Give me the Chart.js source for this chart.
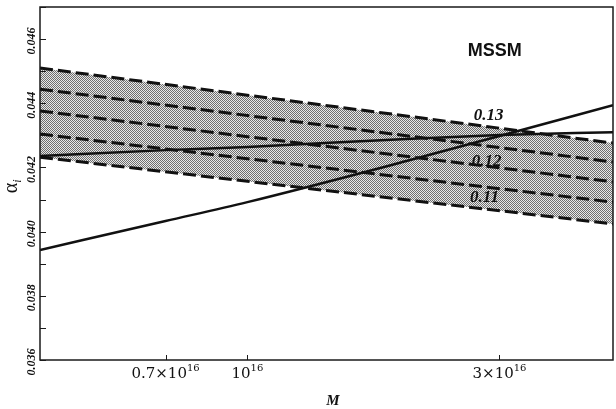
<!DOCTYPE html>
<html>
<head>
<meta charset="utf-8">
<style>
  html, body { margin: 0; padding: 0; background: #fff; }
  canvas { display: block; }
</style>
<script src="https://cdn.jsdelivr.net/npm/chart.js@4.4.0/dist/chart.umd.min.js"></script>
</head>
<body>
<canvas id="alphaChart" width="616" height="409"></canvas>
<script>
// values
const massGrid = [4.05e15, 7e15, 1e16, 2e16, 3e16, 4.92e16];
const alphaSteep = [0.03943, 0.04033, 0.04092, 0.04220, 0.04298, 0.04394];
const alphaFlat = [0.04236, 0.04254, 0.04264, 0.04289, 0.04301, 0.04310];

const bandMass = [4.05e15, 4.92e16];
const dash1 = [0.04510, 0.04276];
const dash2 = [0.04444, 0.04217];
const dash3 = [0.04376, 0.04155];
const dash4 = [0.04304, 0.04092];
const dash5 = [0.04232, 0.04024];

const xTickValues = [0.7e16, 1e16, 3e16];
const xTickBases = ["0.7×10", "10", "3×10"];
const xTickPowers = ["16", "16", "16"];
const yTickValues = [0.036, 0.037, 0.038, 0.039, 0.040, 0.041, 0.042, 0.043, 0.044, 0.045, 0.046, 0.047];
const yLabelValues = [0.036, 0.038, 0.040, 0.042, 0.044, 0.046];

const noteText = ["0.13", "0.12", "0.11"];
const noteMass = [2.86e16, 2.835e16, 2.81e16];
const noteAlpha = [0.04363, 0.04217, 0.04105];

function toPoints(xs, ys) {
  return xs.map((x, i) => ({ x: x, y: ys[i] }));
}

function stipple(ctx) {
  const c = document.createElement("canvas");
  c.width = 2;
  c.height = 2;
  const g = c.getContext("2d");
  g.fillStyle = "#e8e8e8";
  g.fillRect(0, 0, 2, 2);
  g.fillStyle = "#6e6e6e";
  g.fillRect(0, 0, 1, 1);
  g.fillRect(1, 1, 1, 1);
  return ctx.createPattern(c, "repeat");
}

function dashed(values, fill, bg) {
  return {
    data: toPoints(bandMass, values),
    borderColor: "#111",
    borderWidth: 3,
    borderDash: [13, 5],
    backgroundColor: bg || "transparent",
    fill: fill,
    pointRadius: 0,
    tension: 0,
    // the filled band goes underneath everything
    order: bg ? 10 : 0
  };
}

function solid(values) {
  return {
    data: toPoints(massGrid, values),
    borderColor: "#111",
    borderWidth: 2.5,
    fill: false,
    pointRadius: 0,
    cubicInterpolationMode: "monotone",
    order: 0
  };
}

const decor = {
  id: "decor",
  afterDraw(chart) {
    const { ctx, chartArea: a } = chart;
    const x = chart.scales.x;
    const y = chart.scales.y;

    ctx.save();
    ctx.strokeStyle = "#1a1a1a";
    ctx.fillStyle = "#111";
    ctx.lineWidth = 1.5;
    ctx.strokeRect(a.left, a.top, a.right - a.left, a.bottom - a.top);

    // inward ticks
    ctx.lineWidth = 1;
    ctx.beginPath();
    yTickValues.forEach(v => {
      const py = Math.round(y.getPixelForValue(v)) + 0.5;
      ctx.moveTo(a.left, py);
      ctx.lineTo(a.left + 6, py);
    });
    xTickValues.forEach(v => {
      const px = Math.round(x.getPixelForValue(v)) + 0.5;
      ctx.moveTo(px, a.bottom);
      ctx.lineTo(px, a.bottom - 5);
    });
    ctx.stroke();

    // y labels, rotated
    ctx.font = "bold italic 12px 'Liberation Serif'";
    ctx.textAlign = "center";
    ctx.textBaseline = "middle";
    yLabelValues.forEach(v => {
      const py = y.getPixelForValue(v);
      ctx.save();
      ctx.translate(32, py + 2);
      ctx.rotate(-Math.PI / 2);
      ctx.fillText(v.toFixed(3), 0, 0);
      ctx.restore();
    });

    // x labels with powers
    ctx.textAlign = "left";
    ctx.textBaseline = "alphabetic";
    xTickValues.forEach((v, i) => {
      const px = x.getPixelForValue(v);
      ctx.font = "15px 'DejaVu Serif'";
      const wb = ctx.measureText(xTickBases[i]).width;
      ctx.font = "10px 'DejaVu Serif'";
      const wp = ctx.measureText(xTickPowers[i]).width;
      const start = px - (wb + wp) / 2;
      ctx.font = "15px 'DejaVu Serif'";
      ctx.fillText(xTickBases[i], start, 378);
      ctx.font = "10px 'DejaVu Serif'";
      ctx.fillText(xTickPowers[i], start + wb, 371);
    });

    // axis titles
    ctx.textAlign = "center";
    ctx.font = "bold italic 15px 'Liberation Serif'";
    ctx.fillText("M", 333, 405);

    ctx.save();
    ctx.translate(17, 186);
    ctx.rotate(-Math.PI / 2);
    ctx.textAlign = "left";
    ctx.font = "20px 'Liberation Serif'";
    const wa = ctx.measureText("α").width;
    ctx.fillText("α", -wa / 2 - 2, 0);
    ctx.font = "italic 12px 'Liberation Serif'";
    ctx.fillText("i", wa / 2 - 2, 4);
    ctx.restore();

    // curve labels
    ctx.textBaseline = "middle";
    ctx.font = "bold italic 17px 'Liberation Serif'";
    noteText.forEach((t, i) => {
      ctx.fillText(t, x.getPixelForValue(noteMass[i]), y.getPixelForValue(noteAlpha[i]));
    });

    ctx.font = "bold 18px 'Liberation Sans'";
    ctx.fillText("MSSM", x.getPixelForValue(2.94e16), y.getPixelForValue(0.04564));
    ctx.restore();
  }
};

const canvas = document.getElementById("alphaChart");
const ctx = canvas.getContext("2d");

new Chart(ctx, {
  type: "line",
  data: {
    datasets: [
      dashed(dash1, 4, stipple(ctx)),
      dashed(dash2, false),
      dashed(dash3, false),
      dashed(dash4, false),
      dashed(dash5, false),
      solid(alphaSteep),
      solid(alphaFlat)
    ]
  },
  options: {
    responsive: false,
    animation: false,
    devicePixelRatio: 1,
    layout: {
      padding: { left: 40, right: 3, top: 7, bottom: 49 }
    },
    plugins: {
      legend: { display: false },
      tooltip: { enabled: false }
    },
    scales: {
      x: {
        type: "logarithmic",
        min: 4.05e15,
        max: 4.92e16,
        display: false
      },
      y: {
        type: "linear",
        min: 0.036,
        max: 0.047,
        display: false
      }
    }
  },
  plugins: [decor]
});
</script>
</body>
</html>
